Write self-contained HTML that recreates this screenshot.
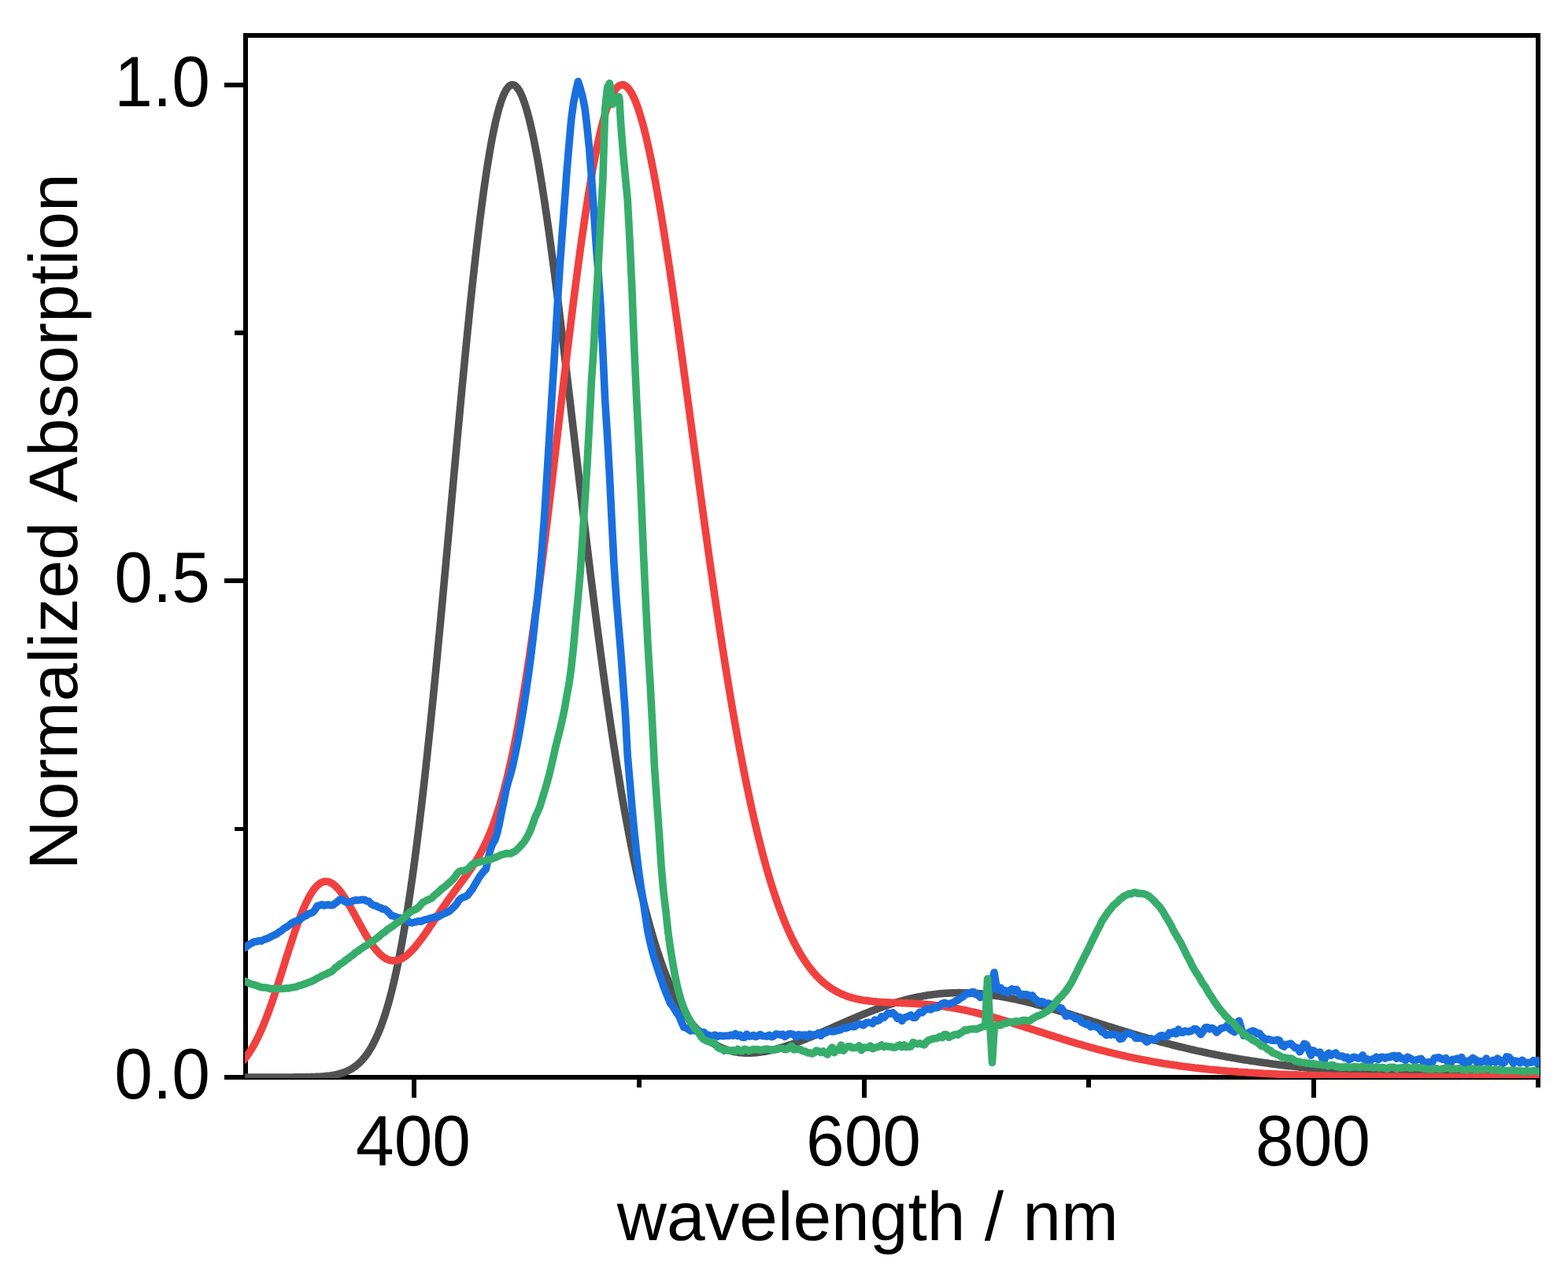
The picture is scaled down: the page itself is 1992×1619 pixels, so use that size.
<!DOCTYPE html>
<html lang="en"><head><meta charset="utf-8"><title>Normalized Absorption</title>
<style>
html,body{margin:0;padding:0;background:#fff;}
body{width:1992px;height:1619px;overflow:hidden;}
svg{display:block;}
</style></head><body>
<svg width="1992" height="1619" viewBox="0 0 1992 1619">
<rect width="1992" height="1619" fill="#ffffff"/>
<defs><clipPath id="plot"><rect x="311" y="45.0" width="1645" height="1325.0"/></clipPath></defs>
<g stroke="#000" stroke-width="6" fill="none" stroke-linecap="butt">
<rect x="312.0" y="45.0" width="1642.0" height="1324.0"/>
<line x1="526.0" y1="1369.0" x2="526.0" y2="1395.0"/>
<line x1="812.0" y1="1369.0" x2="812.0" y2="1382.0"/>
<line x1="1098.0" y1="1369.0" x2="1098.0" y2="1395.0"/>
<line x1="1383.0" y1="1369.0" x2="1383.0" y2="1382.0"/>
<line x1="1669.0" y1="1369.0" x2="1669.0" y2="1395.0"/>
<line x1="1954.0" y1="1369.0" x2="1954.0" y2="1382.0"/>
<line x1="312.0" y1="1369.0" x2="285.0" y2="1369.0"/>
<line x1="312.0" y1="1053.5" x2="298.0" y2="1053.5" stroke-width="5"/>
<line x1="312.0" y1="738.0" x2="285.0" y2="738.0"/>
<line x1="312.0" y1="423.0" x2="298.0" y2="423.0"/>
<line x1="312.0" y1="108.0" x2="285.0" y2="108.0"/>
</g>
<g fill="none" stroke-width="9.6" stroke-linejoin="round" stroke-linecap="butt" clip-path="url(#plot)">
<path stroke="#515151" d="M306.0,1369.0 L308.0,1369.0 L310.0,1369.0 L312.0,1369.0 L314.0,1369.0 L316.0,1369.0 L318.0,1369.0 L320.0,1369.0 L322.0,1369.0 L324.0,1369.0 L326.0,1369.0 L328.0,1369.0 L330.0,1369.0 L332.0,1369.0 L334.0,1369.0 L336.0,1369.0 L338.0,1369.0 L340.0,1369.0 L342.0,1369.0 L344.0,1369.0 L346.0,1369.0 L348.0,1369.0 L350.0,1369.0 L352.0,1369.0 L354.0,1369.0 L356.0,1369.0 L358.0,1369.0 L360.0,1369.0 L362.0,1369.0 L364.0,1369.0 L366.0,1369.0 L368.0,1369.0 L370.0,1369.0 L372.0,1369.0 L374.0,1368.9 L376.0,1368.9 L378.0,1368.9 L380.0,1368.9 L382.0,1368.9 L384.0,1368.9 L386.0,1368.8 L388.0,1368.8 L390.0,1368.8 L392.0,1368.7 L394.0,1368.7 L396.0,1368.6 L398.0,1368.6 L400.0,1368.5 L402.0,1368.4 L404.0,1368.3 L406.0,1368.2 L408.0,1368.1 L410.0,1368.0 L412.0,1367.8 L414.0,1367.6 L416.0,1367.4 L418.0,1367.2 L420.0,1366.9 L422.0,1366.6 L424.0,1366.3 L426.0,1365.9 L428.0,1365.5 L430.0,1365.0 L432.0,1364.4 L434.0,1363.8 L436.0,1363.2 L438.0,1362.4 L440.0,1361.6 L442.0,1360.7 L444.0,1359.7 L446.0,1358.6 L448.0,1357.4 L450.0,1356.1 L452.0,1354.6 L454.0,1353.0 L456.0,1351.2 L458.0,1349.3 L460.0,1347.2 L462.0,1344.9 L464.0,1342.5 L466.0,1339.8 L468.0,1336.9 L470.0,1333.7 L472.0,1330.4 L474.0,1326.7 L476.0,1322.8 L478.0,1318.6 L480.0,1314.1 L482.0,1309.3 L484.0,1304.2 L486.0,1298.7 L488.0,1292.9 L490.0,1286.7 L492.0,1280.1 L494.0,1273.1 L496.0,1265.7 L498.0,1257.9 L500.0,1249.6 L502.0,1240.9 L504.0,1231.8 L506.0,1222.2 L508.0,1212.1 L510.0,1201.6 L512.0,1190.5 L514.0,1179.0 L516.0,1167.0 L518.0,1154.5 L520.0,1141.4 L522.0,1127.9 L524.0,1113.9 L526.0,1099.4 L528.0,1084.3 L530.0,1068.8 L532.0,1052.8 L534.0,1036.4 L536.0,1019.4 L538.0,1002.1 L540.0,984.2 L542.0,966.0 L544.0,947.3 L546.0,928.2 L548.0,908.8 L550.0,889.0 L552.0,868.9 L554.0,848.5 L556.0,827.8 L558.0,806.8 L560.0,785.6 L562.0,764.2 L564.0,742.6 L566.0,720.9 L568.0,699.1 L570.0,677.2 L572.0,655.2 L574.0,633.3 L576.0,611.4 L578.0,589.5 L580.0,567.8 L582.0,546.1 L584.0,524.7 L586.0,503.4 L588.0,482.4 L590.0,461.6 L592.0,441.2 L594.0,421.1 L596.0,401.4 L598.0,382.1 L600.0,363.3 L602.0,344.9 L604.0,327.0 L606.0,309.7 L608.0,293.0 L610.0,276.8 L612.0,261.2 L614.0,246.4 L616.0,232.1 L618.0,218.6 L620.0,205.8 L622.0,193.7 L624.0,182.3 L626.0,171.8 L628.0,162.0 L630.0,152.9 L632.0,144.7 L634.0,137.3 L636.0,130.8 L638.0,125.0 L640.0,120.1 L642.0,116.0 L644.0,112.7 L646.0,110.2 L648.0,108.6 L650.0,107.8 L652.0,107.8 L654.0,108.6 L656.0,110.2 L658.0,112.6 L660.0,115.8 L662.0,119.7 L664.0,124.4 L666.0,129.8 L668.0,135.9 L670.0,142.7 L672.0,150.2 L674.0,158.4 L676.0,167.2 L678.0,176.6 L680.0,186.6 L682.0,197.1 L684.0,208.2 L686.0,219.9 L688.0,232.0 L690.0,244.7 L692.0,257.7 L694.0,271.2 L696.0,285.2 L698.0,299.4 L700.0,314.1 L702.0,329.0 L704.0,344.3 L706.0,359.9 L708.0,375.7 L710.0,391.7 L712.0,408.0 L714.0,424.4 L716.0,441.0 L718.0,457.7 L720.0,474.6 L722.0,491.5 L724.0,508.5 L726.0,525.6 L728.0,542.7 L730.0,559.8 L732.0,576.9 L734.0,594.0 L736.0,611.0 L738.0,628.0 L740.0,644.9 L742.0,661.7 L744.0,678.4 L746.0,695.0 L748.0,711.5 L750.0,727.8 L752.0,744.0 L754.0,760.0 L756.0,775.8 L758.0,791.4 L760.0,806.9 L762.0,822.1 L764.0,837.1 L766.0,851.9 L768.0,866.5 L770.0,880.8 L772.0,894.9 L774.0,908.8 L776.0,922.4 L778.0,935.8 L780.0,948.9 L782.0,961.7 L784.0,974.3 L786.0,986.6 L788.0,998.7 L790.0,1010.5 L792.0,1022.0 L794.0,1033.2 L796.0,1044.2 L798.0,1055.0 L800.0,1065.4 L802.0,1075.6 L804.0,1085.6 L806.0,1095.3 L808.0,1104.7 L810.0,1113.9 L812.0,1122.8 L814.0,1131.5 L816.0,1139.9 L818.0,1148.1 L820.0,1156.0 L822.0,1163.7 L824.0,1171.2 L826.0,1178.4 L828.0,1185.4 L830.0,1192.2 L832.0,1198.8 L834.0,1205.2 L836.0,1211.3 L838.0,1217.3 L840.0,1223.0 L842.0,1228.5 L844.0,1233.9 L846.0,1239.1 L848.0,1244.0 L850.0,1248.8 L852.0,1253.5 L854.0,1257.9 L856.0,1262.2 L858.0,1266.3 L860.0,1270.3 L862.0,1274.1 L864.0,1277.7 L866.0,1281.2 L868.0,1284.6 L870.0,1287.8 L872.0,1290.9 L874.0,1293.8 L876.0,1296.7 L878.0,1299.4 L880.0,1301.9 L882.0,1304.4 L884.0,1306.7 L886.0,1309.0 L888.0,1311.1 L890.0,1313.1 L892.0,1315.0 L894.0,1316.9 L896.0,1318.6 L898.0,1320.2 L900.0,1321.8 L902.0,1323.2 L904.0,1324.6 L906.0,1325.9 L908.0,1327.1 L910.0,1328.3 L912.0,1329.3 L914.0,1330.3 L916.0,1331.2 L918.0,1332.1 L920.0,1332.9 L922.0,1333.6 L924.0,1334.3 L926.0,1334.9 L928.0,1335.4 L930.0,1335.9 L932.0,1336.4 L934.0,1336.7 L936.0,1337.1 L938.0,1337.4 L940.0,1337.6 L942.0,1337.8 L944.0,1338.0 L946.0,1338.1 L948.0,1338.1 L950.0,1338.2 L952.0,1338.2 L954.0,1338.1 L956.0,1338.0 L958.0,1337.9 L960.0,1337.8 L962.0,1337.6 L964.0,1337.3 L966.0,1337.1 L968.0,1336.8 L970.0,1336.5 L972.0,1336.2 L974.0,1335.8 L976.0,1335.4 L978.0,1335.0 L980.0,1334.6 L982.0,1334.1 L984.0,1333.6 L986.0,1333.1 L988.0,1332.6 L990.0,1332.0 L992.0,1331.5 L994.0,1330.9 L996.0,1330.3 L998.0,1329.6 L1000.0,1329.0 L1002.0,1328.3 L1004.0,1327.7 L1006.0,1327.0 L1008.0,1326.3 L1010.0,1325.6 L1012.0,1324.8 L1014.0,1324.1 L1016.0,1323.3 L1018.0,1322.6 L1020.0,1321.8 L1022.0,1321.0 L1024.0,1320.2 L1026.0,1319.4 L1028.0,1318.6 L1030.0,1317.8 L1032.0,1316.9 L1034.0,1316.1 L1036.0,1315.2 L1038.0,1314.4 L1040.0,1313.5 L1042.0,1312.7 L1044.0,1311.8 L1046.0,1311.0 L1048.0,1310.1 L1050.0,1309.2 L1052.0,1308.3 L1054.0,1307.4 L1056.0,1306.6 L1058.0,1305.7 L1060.0,1304.8 L1062.0,1303.9 L1064.0,1303.0 L1066.0,1302.2 L1068.0,1301.3 L1070.0,1300.4 L1072.0,1299.5 L1074.0,1298.6 L1076.0,1297.8 L1078.0,1296.9 L1080.0,1296.0 L1082.0,1295.2 L1084.0,1294.3 L1086.0,1293.5 L1088.0,1292.6 L1090.0,1291.8 L1092.0,1290.9 L1094.0,1290.1 L1096.0,1289.3 L1098.0,1288.5 L1100.0,1287.7 L1102.0,1286.9 L1104.0,1286.1 L1106.0,1285.3 L1108.0,1284.5 L1110.0,1283.7 L1112.0,1283.0 L1114.0,1282.2 L1116.0,1281.5 L1118.0,1280.8 L1120.0,1280.0 L1122.0,1279.3 L1124.0,1278.6 L1126.0,1278.0 L1128.0,1277.3 L1130.0,1276.6 L1132.0,1276.0 L1134.0,1275.3 L1136.0,1274.7 L1138.0,1274.1 L1140.0,1273.5 L1142.0,1272.9 L1144.0,1272.4 L1146.0,1271.8 L1148.0,1271.3 L1150.0,1270.7 L1152.0,1270.2 L1154.0,1269.7 L1156.0,1269.2 L1158.0,1268.7 L1160.0,1268.3 L1162.0,1267.8 L1164.0,1267.4 L1166.0,1267.0 L1168.0,1266.6 L1170.0,1266.2 L1172.0,1265.9 L1174.0,1265.5 L1176.0,1265.2 L1178.0,1264.8 L1180.0,1264.5 L1182.0,1264.2 L1184.0,1264.0 L1186.0,1263.7 L1188.0,1263.5 L1190.0,1263.2 L1192.0,1263.0 L1194.0,1262.8 L1196.0,1262.6 L1198.0,1262.5 L1200.0,1262.3 L1202.0,1262.2 L1204.0,1262.1 L1206.0,1262.0 L1208.0,1261.9 L1210.0,1261.8 L1212.0,1261.7 L1214.0,1261.7 L1216.0,1261.7 L1218.0,1261.6 L1220.0,1261.6 L1222.0,1261.7 L1224.0,1261.7 L1226.0,1261.7 L1228.0,1261.8 L1230.0,1261.9 L1232.0,1261.9 L1234.0,1262.0 L1236.0,1262.2 L1238.0,1262.3 L1240.0,1262.4 L1242.0,1262.6 L1244.0,1262.8 L1246.0,1262.9 L1248.0,1263.1 L1250.0,1263.3 L1252.0,1263.6 L1254.0,1263.8 L1256.0,1264.0 L1258.0,1264.3 L1260.0,1264.6 L1262.0,1264.9 L1264.0,1265.1 L1266.0,1265.5 L1268.0,1265.8 L1270.0,1266.1 L1272.0,1266.4 L1274.0,1266.8 L1276.0,1267.1 L1278.0,1267.5 L1280.0,1267.9 L1282.0,1268.3 L1284.0,1268.7 L1286.0,1269.1 L1288.0,1269.5 L1290.0,1269.9 L1292.0,1270.4 L1294.0,1270.8 L1296.0,1271.3 L1298.0,1271.7 L1300.0,1272.2 L1302.0,1272.7 L1304.0,1273.2 L1306.0,1273.7 L1308.0,1274.2 L1310.0,1274.7 L1312.0,1275.2 L1314.0,1275.7 L1316.0,1276.3 L1318.0,1276.8 L1320.0,1277.3 L1322.0,1277.9 L1324.0,1278.4 L1326.0,1279.0 L1328.0,1279.6 L1330.0,1280.1 L1332.0,1280.7 L1334.0,1281.3 L1336.0,1281.9 L1338.0,1282.4 L1340.0,1283.0 L1342.0,1283.6 L1344.0,1284.2 L1346.0,1284.8 L1348.0,1285.4 L1350.0,1286.0 L1352.0,1286.7 L1354.0,1287.3 L1356.0,1287.9 L1358.0,1288.5 L1360.0,1289.1 L1362.0,1289.7 L1364.0,1290.4 L1366.0,1291.0 L1368.0,1291.6 L1370.0,1292.3 L1372.0,1292.9 L1374.0,1293.5 L1376.0,1294.2 L1378.0,1294.8 L1380.0,1295.4 L1382.0,1296.1 L1384.0,1296.7 L1386.0,1297.3 L1388.0,1298.0 L1390.0,1298.6 L1392.0,1299.2 L1394.0,1299.9 L1396.0,1300.5 L1398.0,1301.1 L1400.0,1301.8 L1402.0,1302.4 L1404.0,1303.0 L1406.0,1303.7 L1408.0,1304.3 L1410.0,1304.9 L1412.0,1305.6 L1414.0,1306.2 L1416.0,1306.8 L1418.0,1307.4 L1420.0,1308.0 L1422.0,1308.7 L1424.0,1309.3 L1426.0,1309.9 L1428.0,1310.5 L1430.0,1311.1 L1432.0,1311.7 L1434.0,1312.3 L1436.0,1312.9 L1438.0,1313.5 L1440.0,1314.1 L1442.0,1314.7 L1444.0,1315.3 L1446.0,1315.9 L1448.0,1316.5 L1450.0,1317.1 L1452.0,1317.6 L1454.0,1318.2 L1456.0,1318.8 L1458.0,1319.4 L1460.0,1319.9 L1462.0,1320.5 L1464.0,1321.0 L1466.0,1321.6 L1468.0,1322.2 L1470.0,1322.7 L1472.0,1323.2 L1474.0,1323.8 L1476.0,1324.3 L1478.0,1324.9 L1480.0,1325.4 L1482.0,1325.9 L1484.0,1326.4 L1486.0,1326.9 L1488.0,1327.5 L1490.0,1328.0 L1492.0,1328.5 L1494.0,1329.0 L1496.0,1329.5 L1498.0,1330.0 L1500.0,1330.5 L1502.0,1330.9 L1504.0,1331.4 L1506.0,1331.9 L1508.0,1332.4 L1510.0,1332.8 L1512.0,1333.3 L1514.0,1333.8 L1516.0,1334.2 L1518.0,1334.7 L1520.0,1335.1 L1522.0,1335.6 L1524.0,1336.0 L1526.0,1336.4 L1528.0,1336.9 L1530.0,1337.3 L1532.0,1337.7 L1534.0,1338.2 L1536.0,1338.6 L1538.0,1339.0 L1540.0,1339.4 L1542.0,1339.8 L1544.0,1340.2 L1546.0,1340.6 L1548.0,1341.0 L1550.0,1341.4 L1552.0,1341.7 L1554.0,1342.1 L1556.0,1342.5 L1558.0,1342.9 L1560.0,1343.2 L1562.0,1343.6 L1564.0,1343.9 L1566.0,1344.3 L1568.0,1344.6 L1570.0,1345.0 L1572.0,1345.3 L1574.0,1345.7 L1576.0,1346.0 L1578.0,1346.3 L1580.0,1346.7 L1582.0,1347.0 L1584.0,1347.3 L1586.0,1347.6 L1588.0,1347.9 L1590.0,1348.2 L1592.0,1348.5 L1594.0,1348.8 L1596.0,1349.1 L1598.0,1349.4 L1600.0,1349.7 L1602.0,1350.0 L1604.0,1350.3 L1606.0,1350.6 L1608.0,1350.8 L1610.0,1351.1 L1612.0,1351.4 L1614.0,1351.7 L1616.0,1351.9 L1618.0,1352.2 L1620.0,1352.4 L1622.0,1352.7 L1624.0,1352.9 L1626.0,1353.2 L1628.0,1353.4 L1630.0,1353.7 L1632.0,1353.9 L1634.0,1354.1 L1636.0,1354.4 L1638.0,1354.6 L1640.0,1354.8 L1642.0,1355.0 L1644.0,1355.2 L1646.0,1355.5 L1648.0,1355.7 L1650.0,1355.9 L1652.0,1356.1 L1654.0,1356.3 L1656.0,1356.5 L1658.0,1356.7 L1660.0,1356.9 L1662.0,1357.1 L1664.0,1357.3 L1666.0,1357.4 L1668.0,1357.6 L1670.0,1357.8 L1672.0,1358.0 L1674.0,1358.2 L1676.0,1358.3 L1678.0,1358.5 L1680.0,1358.7 L1682.0,1358.8 L1684.0,1359.0 L1686.0,1359.2 L1688.0,1359.3 L1690.0,1359.5 L1692.0,1359.6 L1694.0,1359.8 L1696.0,1359.9 L1698.0,1360.1 L1700.0,1360.2 L1702.0,1360.4 L1704.0,1360.5 L1706.0,1360.7 L1708.0,1360.8 L1710.0,1360.9 L1712.0,1361.1 L1714.0,1361.2 L1716.0,1361.3 L1718.0,1361.5 L1720.0,1361.6 L1722.0,1361.7 L1724.0,1361.8 L1726.0,1361.9 L1728.0,1362.1 L1730.0,1362.2 L1732.0,1362.3 L1734.0,1362.4 L1736.0,1362.5 L1738.0,1362.6 L1740.0,1362.7 L1742.0,1362.8 L1744.0,1362.9 L1746.0,1363.0 L1748.0,1363.1 L1750.0,1363.2 L1752.0,1363.3 L1754.0,1363.4 L1756.0,1363.5 L1758.0,1363.6 L1760.0,1363.7 L1762.0,1363.8 L1764.0,1363.9 L1766.0,1364.0 L1768.0,1364.1 L1770.0,1364.2 L1772.0,1364.2 L1774.0,1364.3 L1776.0,1364.4 L1778.0,1364.5 L1780.0,1364.6 L1782.0,1364.6 L1784.0,1364.7 L1786.0,1364.8 L1788.0,1364.9 L1790.0,1364.9 L1792.0,1365.0 L1794.0,1365.1 L1796.0,1365.1 L1798.0,1365.2 L1800.0,1365.3 L1802.0,1365.3 L1804.0,1365.4 L1806.0,1365.5 L1808.0,1365.5 L1810.0,1365.6 L1812.0,1365.6 L1814.0,1365.7 L1816.0,1365.8 L1818.0,1365.8 L1820.0,1365.9 L1822.0,1365.9 L1824.0,1366.0 L1826.0,1366.0 L1828.0,1366.1 L1830.0,1366.1 L1832.0,1366.2 L1834.0,1366.2 L1836.0,1366.3 L1838.0,1366.3 L1840.0,1366.4 L1842.0,1366.4 L1844.0,1366.5 L1846.0,1366.5 L1848.0,1366.6 L1850.0,1366.6 L1852.0,1366.7 L1854.0,1366.7 L1856.0,1366.7 L1858.0,1366.8 L1860.0,1366.8 L1862.0,1366.9 L1864.0,1366.9 L1866.0,1366.9 L1868.0,1367.0 L1870.0,1367.0 L1872.0,1367.0 L1874.0,1367.1 L1876.0,1367.1 L1878.0,1367.1 L1880.0,1367.2 L1882.0,1367.2 L1884.0,1367.2 L1886.0,1367.3 L1888.0,1367.3 L1890.0,1367.3 L1892.0,1367.4 L1894.0,1367.4 L1896.0,1367.4 L1898.0,1367.5 L1900.0,1367.5 L1902.0,1367.5 L1904.0,1367.5 L1906.0,1367.6 L1908.0,1367.6 L1910.0,1367.6 L1912.0,1367.6 L1914.0,1367.7 L1916.0,1367.7 L1918.0,1367.7 L1920.0,1367.7 L1922.0,1367.8 L1924.0,1367.8 L1926.0,1367.8 L1928.0,1367.8 L1930.0,1367.8 L1932.0,1367.9 L1934.0,1367.9 L1936.0,1367.9 L1938.0,1367.9 L1940.0,1367.9 L1942.0,1368.0 L1944.0,1368.0 L1946.0,1368.0 L1948.0,1368.0 L1950.0,1368.0 L1952.0,1368.1 L1954.0,1368.1 L1956.0,1368.1 L1958.0,1368.1 L1960.0,1368.1"/>
<path stroke="#F14040" d="M306.0,1350.8 L308.0,1348.8 L310.0,1346.5 L312.0,1344.1 L314.0,1341.5 L316.0,1338.7 L318.0,1335.7 L320.0,1332.5 L322.0,1329.1 L324.0,1325.4 L326.0,1321.6 L328.0,1317.6 L330.0,1313.3 L332.0,1308.8 L334.0,1304.2 L336.0,1299.3 L338.0,1294.3 L340.0,1289.0 L342.0,1283.6 L344.0,1278.0 L346.0,1272.3 L348.0,1266.4 L350.0,1260.4 L352.0,1254.3 L354.0,1248.1 L356.0,1241.8 L358.0,1235.5 L360.0,1229.1 L362.0,1222.8 L364.0,1216.4 L366.0,1210.1 L368.0,1203.8 L370.0,1197.7 L372.0,1191.6 L374.0,1185.6 L376.0,1179.8 L378.0,1174.2 L380.0,1168.8 L382.0,1163.5 L384.0,1158.5 L386.0,1153.8 L388.0,1149.3 L390.0,1145.1 L392.0,1141.2 L394.0,1137.5 L396.0,1134.3 L398.0,1131.3 L400.0,1128.7 L402.0,1126.4 L404.0,1124.5 L406.0,1122.9 L408.0,1121.7 L410.0,1120.9 L412.0,1120.3 L414.0,1120.2 L416.0,1120.3 L418.0,1120.8 L420.0,1121.6 L422.0,1122.7 L424.0,1124.1 L426.0,1125.8 L428.0,1127.8 L430.0,1130.0 L432.0,1132.4 L434.0,1135.0 L436.0,1137.9 L438.0,1140.9 L440.0,1144.1 L442.0,1147.4 L444.0,1150.8 L446.0,1154.3 L448.0,1157.9 L450.0,1161.5 L452.0,1165.2 L454.0,1168.9 L456.0,1172.6 L458.0,1176.2 L460.0,1179.8 L462.0,1183.4 L464.0,1186.8 L466.0,1190.2 L468.0,1193.4 L470.0,1196.5 L472.0,1199.5 L474.0,1202.3 L476.0,1205.0 L478.0,1207.4 L480.0,1209.7 L482.0,1211.8 L484.0,1213.7 L486.0,1215.4 L488.0,1216.8 L490.0,1218.1 L492.0,1219.1 L494.0,1219.9 L496.0,1220.5 L498.0,1220.8 L500.0,1220.9 L502.0,1220.9 L504.0,1220.6 L506.0,1220.0 L508.0,1219.3 L510.0,1218.4 L512.0,1217.3 L514.0,1216.0 L516.0,1214.6 L518.0,1212.9 L520.0,1211.1 L522.0,1209.2 L524.0,1207.1 L526.0,1204.9 L528.0,1202.6 L530.0,1200.1 L532.0,1197.6 L534.0,1195.0 L536.0,1192.3 L538.0,1189.5 L540.0,1186.7 L542.0,1183.8 L544.0,1180.9 L546.0,1177.9 L548.0,1175.0 L550.0,1172.0 L552.0,1169.1 L554.0,1166.1 L556.0,1163.1 L558.0,1160.2 L560.0,1157.2 L562.0,1154.3 L564.0,1151.4 L566.0,1148.6 L568.0,1145.7 L570.0,1142.9 L572.0,1140.2 L574.0,1137.4 L576.0,1134.7 L578.0,1131.9 L580.0,1129.2 L582.0,1126.5 L584.0,1123.9 L586.0,1121.2 L588.0,1118.5 L590.0,1115.7 L592.0,1113.0 L594.0,1110.2 L596.0,1107.3 L598.0,1104.4 L600.0,1101.4 L602.0,1098.3 L604.0,1095.2 L606.0,1091.9 L608.0,1088.5 L610.0,1084.9 L612.0,1081.2 L614.0,1077.3 L616.0,1073.2 L618.0,1069.0 L620.0,1064.5 L622.0,1059.8 L624.0,1054.8 L626.0,1049.6 L628.0,1044.1 L630.0,1038.4 L632.0,1032.3 L634.0,1026.0 L636.0,1019.3 L638.0,1012.3 L640.0,1005.0 L642.0,997.3 L644.0,989.3 L646.0,980.9 L648.0,972.1 L650.0,963.0 L652.0,953.4 L654.0,943.5 L656.0,933.3 L658.0,922.6 L660.0,911.6 L662.0,900.2 L664.0,888.4 L666.0,876.2 L668.0,863.7 L670.0,850.8 L672.0,837.5 L674.0,823.9 L676.0,810.0 L678.0,795.8 L680.0,781.2 L682.0,766.4 L684.0,751.2 L686.0,735.8 L688.0,720.2 L690.0,704.3 L692.0,688.2 L694.0,671.9 L696.0,655.4 L698.0,638.8 L700.0,622.1 L702.0,605.2 L704.0,588.3 L706.0,571.3 L708.0,554.3 L710.0,537.3 L712.0,520.2 L714.0,503.2 L716.0,486.3 L718.0,469.5 L720.0,452.8 L722.0,436.2 L724.0,419.8 L726.0,403.6 L728.0,387.6 L730.0,371.8 L732.0,356.3 L734.0,341.1 L736.0,326.2 L738.0,311.7 L740.0,297.5 L742.0,283.7 L744.0,270.3 L746.0,257.3 L748.0,244.7 L750.0,232.7 L752.0,221.0 L754.0,209.9 L756.0,199.3 L758.0,189.3 L760.0,179.7 L762.0,170.7 L764.0,162.3 L766.0,154.5 L768.0,147.2 L770.0,140.6 L772.0,134.5 L774.0,129.1 L776.0,124.2 L778.0,120.0 L780.0,116.4 L782.0,113.4 L784.0,111.1 L786.0,109.4 L788.0,108.3 L790.0,107.8 L792.0,107.9 L794.0,108.6 L796.0,110.0 L798.0,112.0 L800.0,114.5 L802.0,117.6 L804.0,121.4 L806.0,125.6 L808.0,130.5 L810.0,135.9 L812.0,141.8 L814.0,148.3 L816.0,155.2 L818.0,162.7 L820.0,170.6 L822.0,179.0 L824.0,187.9 L826.0,197.2 L828.0,207.0 L830.0,217.1 L832.0,227.6 L834.0,238.6 L836.0,249.8 L838.0,261.4 L840.0,273.4 L842.0,285.6 L844.0,298.2 L846.0,311.0 L848.0,324.0 L850.0,337.3 L852.0,350.9 L854.0,364.6 L856.0,378.5 L858.0,392.6 L860.0,406.9 L862.0,421.2 L864.0,435.7 L866.0,450.4 L868.0,465.1 L870.0,479.8 L872.0,494.7 L874.0,509.6 L876.0,524.5 L878.0,539.4 L880.0,554.3 L882.0,569.3 L884.0,584.2 L886.0,599.0 L888.0,613.9 L890.0,628.6 L892.0,643.3 L894.0,658.0 L896.0,672.5 L898.0,686.9 L900.0,701.2 L902.0,715.4 L904.0,729.5 L906.0,743.4 L908.0,757.2 L910.0,770.9 L912.0,784.4 L914.0,797.7 L916.0,810.8 L918.0,823.8 L920.0,836.6 L922.0,849.2 L924.0,861.6 L926.0,873.8 L928.0,885.8 L930.0,897.7 L932.0,909.3 L934.0,920.7 L936.0,931.9 L938.0,942.9 L940.0,953.6 L942.0,964.2 L944.0,974.5 L946.0,984.7 L948.0,994.6 L950.0,1004.2 L952.0,1013.7 L954.0,1023.0 L956.0,1032.0 L958.0,1040.8 L960.0,1049.4 L962.0,1057.8 L964.0,1066.0 L966.0,1073.9 L968.0,1081.7 L970.0,1089.2 L972.0,1096.5 L974.0,1103.7 L976.0,1110.6 L978.0,1117.3 L980.0,1123.8 L982.0,1130.2 L984.0,1136.3 L986.0,1142.3 L988.0,1148.0 L990.0,1153.6 L992.0,1159.0 L994.0,1164.2 L996.0,1169.3 L998.0,1174.1 L1000.0,1178.8 L1002.0,1183.4 L1004.0,1187.8 L1006.0,1192.0 L1008.0,1196.0 L1010.0,1199.9 L1012.0,1203.7 L1014.0,1207.3 L1016.0,1210.8 L1018.0,1214.2 L1020.0,1217.4 L1022.0,1220.4 L1024.0,1223.4 L1026.0,1226.2 L1028.0,1228.9 L1030.0,1231.5 L1032.0,1234.0 L1034.0,1236.3 L1036.0,1238.6 L1038.0,1240.7 L1040.0,1242.8 L1042.0,1244.7 L1044.0,1246.6 L1046.0,1248.4 L1048.0,1250.0 L1050.0,1251.6 L1052.0,1253.1 L1054.0,1254.6 L1056.0,1255.9 L1058.0,1257.2 L1060.0,1258.4 L1062.0,1259.6 L1064.0,1260.6 L1066.0,1261.7 L1068.0,1262.6 L1070.0,1263.5 L1072.0,1264.3 L1074.0,1265.1 L1076.0,1265.9 L1078.0,1266.6 L1080.0,1267.2 L1082.0,1267.8 L1084.0,1268.4 L1086.0,1268.9 L1088.0,1269.4 L1090.0,1269.8 L1092.0,1270.2 L1094.0,1270.6 L1096.0,1271.0 L1098.0,1271.3 L1100.0,1271.6 L1102.0,1271.8 L1104.0,1272.1 L1106.0,1272.3 L1108.0,1272.5 L1110.0,1272.7 L1112.0,1272.9 L1114.0,1273.1 L1116.0,1273.2 L1118.0,1273.4 L1120.0,1273.5 L1122.0,1273.6 L1124.0,1273.7 L1126.0,1273.8 L1128.0,1273.9 L1130.0,1274.0 L1132.0,1274.1 L1134.0,1274.2 L1136.0,1274.2 L1138.0,1274.3 L1140.0,1274.4 L1142.0,1274.5 L1144.0,1274.5 L1146.0,1274.6 L1148.0,1274.7 L1150.0,1274.8 L1152.0,1274.9 L1154.0,1274.9 L1156.0,1275.0 L1158.0,1275.1 L1160.0,1275.2 L1162.0,1275.4 L1164.0,1275.5 L1166.0,1275.6 L1168.0,1275.7 L1170.0,1275.9 L1172.0,1276.0 L1174.0,1276.2 L1176.0,1276.4 L1178.0,1276.5 L1180.0,1276.7 L1182.0,1276.9 L1184.0,1277.1 L1186.0,1277.3 L1188.0,1277.6 L1190.0,1277.8 L1192.0,1278.0 L1194.0,1278.3 L1196.0,1278.6 L1198.0,1278.8 L1200.0,1279.1 L1202.0,1279.4 L1204.0,1279.7 L1206.0,1280.1 L1208.0,1280.4 L1210.0,1280.7 L1212.0,1281.1 L1214.0,1281.4 L1216.0,1281.8 L1218.0,1282.2 L1220.0,1282.6 L1222.0,1283.0 L1224.0,1283.4 L1226.0,1283.8 L1228.0,1284.2 L1230.0,1284.7 L1232.0,1285.1 L1234.0,1285.6 L1236.0,1286.0 L1238.0,1286.5 L1240.0,1287.0 L1242.0,1287.5 L1244.0,1288.0 L1246.0,1288.5 L1248.0,1289.0 L1250.0,1289.6 L1252.0,1290.1 L1254.0,1290.6 L1256.0,1291.2 L1258.0,1291.7 L1260.0,1292.3 L1262.0,1292.8 L1264.0,1293.4 L1266.0,1294.0 L1268.0,1294.6 L1270.0,1295.2 L1272.0,1295.8 L1274.0,1296.4 L1276.0,1297.0 L1278.0,1297.6 L1280.0,1298.2 L1282.0,1298.8 L1284.0,1299.4 L1286.0,1300.0 L1288.0,1300.7 L1290.0,1301.3 L1292.0,1301.9 L1294.0,1302.6 L1296.0,1303.2 L1298.0,1303.8 L1300.0,1304.5 L1302.0,1305.1 L1304.0,1305.8 L1306.0,1306.4 L1308.0,1307.0 L1310.0,1307.7 L1312.0,1308.3 L1314.0,1309.0 L1316.0,1309.6 L1318.0,1310.3 L1320.0,1310.9 L1322.0,1311.6 L1324.0,1312.2 L1326.0,1312.9 L1328.0,1313.5 L1330.0,1314.2 L1332.0,1314.8 L1334.0,1315.4 L1336.0,1316.1 L1338.0,1316.7 L1340.0,1317.3 L1342.0,1318.0 L1344.0,1318.6 L1346.0,1319.2 L1348.0,1319.9 L1350.0,1320.5 L1352.0,1321.1 L1354.0,1321.7 L1356.0,1322.3 L1358.0,1323.0 L1360.0,1323.6 L1362.0,1324.2 L1364.0,1324.8 L1366.0,1325.4 L1368.0,1326.0 L1370.0,1326.6 L1372.0,1327.1 L1374.0,1327.7 L1376.0,1328.3 L1378.0,1328.9 L1380.0,1329.4 L1382.0,1330.0 L1384.0,1330.6 L1386.0,1331.1 L1388.0,1331.7 L1390.0,1332.2 L1392.0,1332.8 L1394.0,1333.3 L1396.0,1333.9 L1398.0,1334.4 L1400.0,1334.9 L1402.0,1335.4 L1404.0,1335.9 L1406.0,1336.4 L1408.0,1337.0 L1410.0,1337.5 L1412.0,1337.9 L1414.0,1338.4 L1416.0,1338.9 L1418.0,1339.4 L1420.0,1339.9 L1422.0,1340.3 L1424.0,1340.8 L1426.0,1341.3 L1428.0,1341.7 L1430.0,1342.2 L1432.0,1342.6 L1434.0,1343.1 L1436.0,1343.5 L1438.0,1343.9 L1440.0,1344.3 L1442.0,1344.8 L1444.0,1345.2 L1446.0,1345.6 L1448.0,1346.0 L1450.0,1346.4 L1452.0,1346.8 L1454.0,1347.1 L1456.0,1347.5 L1458.0,1347.9 L1460.0,1348.3 L1462.0,1348.6 L1464.0,1349.0 L1466.0,1349.4 L1468.0,1349.7 L1470.0,1350.1 L1472.0,1350.4 L1474.0,1350.7 L1476.0,1351.1 L1478.0,1351.4 L1480.0,1351.7 L1482.0,1352.0 L1484.0,1352.3 L1486.0,1352.7 L1488.0,1353.0 L1490.0,1353.3 L1492.0,1353.6 L1494.0,1353.8 L1496.0,1354.1 L1498.0,1354.4 L1500.0,1354.7 L1502.0,1355.0 L1504.0,1355.2 L1506.0,1355.5 L1508.0,1355.7 L1510.0,1356.0 L1512.0,1356.3 L1514.0,1356.5 L1516.0,1356.7 L1518.0,1357.0 L1520.0,1357.2 L1522.0,1357.4 L1524.0,1357.7 L1526.0,1357.9 L1528.0,1358.1 L1530.0,1358.3 L1532.0,1358.5 L1534.0,1358.8 L1536.0,1359.0 L1538.0,1359.2 L1540.0,1359.4 L1542.0,1359.6 L1544.0,1359.7 L1546.0,1359.9 L1548.0,1360.1 L1550.0,1360.3 L1552.0,1360.5 L1554.0,1360.7 L1556.0,1360.8 L1558.0,1361.0 L1560.0,1361.2 L1562.0,1361.3 L1564.0,1361.5 L1566.0,1361.6 L1568.0,1361.8 L1570.0,1361.9 L1572.0,1362.1 L1574.0,1362.2 L1576.0,1362.4 L1578.0,1362.5 L1580.0,1362.7 L1582.0,1362.8 L1584.0,1362.9 L1586.0,1363.1 L1588.0,1363.2 L1590.0,1363.3 L1592.0,1363.4 L1594.0,1363.5 L1596.0,1363.7 L1598.0,1363.8 L1600.0,1363.9 L1602.0,1364.0 L1604.0,1364.1 L1606.0,1364.2 L1608.0,1364.3 L1610.0,1364.4 L1612.0,1364.5 L1614.0,1364.6 L1616.0,1364.7 L1618.0,1364.8 L1620.0,1364.9 L1622.0,1365.0 L1624.0,1365.1 L1626.0,1365.2 L1628.0,1365.3 L1630.0,1365.3 L1632.0,1365.4 L1634.0,1365.5 L1636.0,1365.6 L1638.0,1365.7 L1640.0,1365.7 L1642.0,1365.8 L1644.0,1365.9 L1646.0,1365.9 L1648.0,1366.0 L1650.0,1366.1 L1652.0,1366.1 L1654.0,1366.2 L1656.0,1366.3 L1658.0,1366.3 L1660.0,1366.4 L1662.0,1366.5 L1664.0,1366.5 L1666.0,1366.6 L1668.0,1366.6 L1670.0,1366.7 L1672.0,1366.7 L1674.0,1366.8 L1676.0,1366.8 L1678.0,1366.9 L1680.0,1366.9 L1682.0,1367.0 L1684.0,1367.0 L1686.0,1367.1 L1688.0,1367.1 L1690.0,1367.2 L1692.0,1367.2 L1694.0,1367.2 L1696.0,1367.3 L1698.0,1367.3 L1700.0,1367.4 L1702.0,1367.4 L1704.0,1367.4 L1706.0,1367.5 L1708.0,1367.5 L1710.0,1367.6 L1712.0,1367.6 L1714.0,1367.6 L1716.0,1367.7 L1718.0,1367.7 L1720.0,1367.7 L1722.0,1367.7 L1724.0,1367.8 L1726.0,1367.8 L1728.0,1367.8 L1730.0,1367.9 L1732.0,1367.9 L1734.0,1367.9 L1736.0,1367.9 L1738.0,1368.0 L1740.0,1368.0 L1742.0,1368.0 L1744.0,1368.0 L1746.0,1368.1 L1748.0,1368.1 L1750.0,1368.1 L1752.0,1368.1 L1754.0,1368.1 L1756.0,1368.2 L1758.0,1368.2 L1760.0,1368.2 L1762.0,1368.2 L1764.0,1368.2 L1766.0,1368.3 L1768.0,1368.3 L1770.0,1368.3 L1772.0,1368.3 L1774.0,1368.3 L1776.0,1368.3 L1778.0,1368.4 L1780.0,1368.4 L1782.0,1368.4 L1784.0,1368.4 L1786.0,1368.4 L1788.0,1368.4 L1790.0,1368.5 L1792.0,1368.5 L1794.0,1368.5 L1796.0,1368.5 L1798.0,1368.5 L1800.0,1368.5 L1802.0,1368.5 L1804.0,1368.5 L1806.0,1368.6 L1808.0,1368.6 L1810.0,1368.6 L1812.0,1368.6 L1814.0,1368.6 L1816.0,1368.6 L1818.0,1368.6 L1820.0,1368.6 L1822.0,1368.6 L1824.0,1368.6 L1826.0,1368.7 L1828.0,1368.7 L1830.0,1368.7 L1832.0,1368.7 L1834.0,1368.7 L1836.0,1368.7 L1838.0,1368.7 L1840.0,1368.7 L1842.0,1368.7 L1844.0,1368.7 L1846.0,1368.7 L1848.0,1368.7 L1850.0,1368.7 L1852.0,1368.7 L1854.0,1368.8 L1856.0,1368.8 L1858.0,1368.8 L1860.0,1368.8 L1862.0,1368.8 L1864.0,1368.8 L1866.0,1368.8 L1868.0,1368.8 L1870.0,1368.8 L1872.0,1368.8 L1874.0,1368.8 L1876.0,1368.8 L1878.0,1368.8 L1880.0,1368.8 L1882.0,1368.8 L1884.0,1368.8 L1886.0,1368.8 L1888.0,1368.8 L1890.0,1368.8 L1892.0,1368.8 L1894.0,1368.9 L1896.0,1368.9 L1898.0,1368.9 L1900.0,1368.9 L1902.0,1368.9 L1904.0,1368.9 L1906.0,1368.9 L1908.0,1368.9 L1910.0,1368.9 L1912.0,1368.9 L1914.0,1368.9 L1916.0,1368.9 L1918.0,1368.9 L1920.0,1368.9 L1922.0,1368.9 L1924.0,1368.9 L1926.0,1368.9 L1928.0,1368.9 L1930.0,1368.9 L1932.0,1368.9 L1934.0,1368.9 L1936.0,1368.9 L1938.0,1368.9 L1940.0,1368.9 L1942.0,1368.9 L1944.0,1368.9 L1946.0,1368.9 L1948.0,1368.9 L1950.0,1368.9 L1952.0,1368.9 L1954.0,1368.9 L1956.0,1368.9 L1958.0,1368.9 L1960.0,1368.9"/>
<path stroke="#1A6FDF" d="M306.0,1205.4 L308.9,1203.7 L311.7,1204.2 L314.6,1201.6 L317.4,1199.7 L320.3,1198.4 L323.1,1196.7 L326.0,1196.6 L328.8,1195.6 L331.7,1196.0 L334.6,1194.4 L337.4,1193.3 L340.3,1192.4 L343.1,1191.0 L346.0,1189.4 L348.8,1188.1 L351.7,1186.8 L354.6,1184.5 L357.4,1182.9 L360.3,1180.4 L363.1,1178.4 L366.0,1176.9 L368.8,1174.6 L371.7,1172.5 L374.5,1171.2 L377.4,1170.1 L380.3,1169.2 L383.1,1166.7 L386.0,1164.9 L388.8,1163.7 L391.7,1161.4 L394.5,1160.4 L397.4,1159.4 L400.2,1156.2 L403.1,1151.2 L406.0,1150.6 L408.8,1149.5 L411.7,1150.8 L414.5,1150.0 L417.4,1149.7 L420.2,1150.5 L423.1,1150.0 L426.0,1147.9 L428.8,1145.7 L431.7,1143.3 L434.5,1142.5 L437.4,1145.2 L440.2,1146.6 L443.1,1146.2 L445.9,1145.9 L448.8,1144.6 L451.7,1143.8 L454.5,1144.0 L457.4,1143.7 L460.2,1143.3 L463.1,1143.5 L465.9,1145.1 L468.8,1145.6 L471.6,1148.7 L474.5,1150.5 L477.4,1150.9 L480.2,1152.6 L483.1,1153.3 L485.9,1155.2 L488.8,1155.4 L491.6,1157.3 L494.5,1160.3 L497.4,1163.8 L500.2,1164.1 L503.1,1165.4 L505.9,1166.3 L508.8,1166.7 L511.6,1168.2 L514.5,1168.0 L517.3,1169.9 L520.2,1172.0 L523.1,1172.8 L525.9,1172.0 L528.8,1171.5 L531.6,1170.5 L534.5,1171.1 L537.3,1169.8 L540.2,1168.8 L543.0,1168.2 L545.9,1167.3 L548.8,1166.4 L551.6,1165.8 L554.5,1165.0 L557.3,1164.9 L560.2,1162.7 L563.0,1161.7 L565.9,1160.4 L568.8,1159.0 L571.6,1157.4 L574.5,1154.6 L577.3,1151.9 L580.2,1148.6 L583.0,1144.2 L585.9,1141.4 L588.7,1140.3 L591.6,1139.2 L594.5,1137.2 L597.3,1133.4 L600.2,1129.8 L603.0,1124.5 L605.9,1119.9 L608.7,1115.1 L611.6,1110.9 L614.4,1107.6 L617.3,1104.7 L620.2,1091.2 L623.0,1079.5 L625.9,1072.3 L628.7,1067.8 L631.6,1058.6 L634.4,1046.6 L637.3,1031.7 L640.2,1017.9 L643.0,1003.3 L645.9,992.6 L648.7,983.6 L651.6,972.2 L654.4,959.1 L657.3,944.9 L660.1,929.4 L663.0,912.4 L665.9,894.6 L668.7,875.9 L671.6,855.8 L674.4,834.3 L677.3,810.5 L680.1,784.1 L683.0,758.9 L685.8,730.6 L688.7,695.8 L691.6,656.6 L694.4,612.0 L697.3,565.3 L700.1,519.6 L703.0,474.2 L705.8,428.9 L708.7,377.7 L711.6,332.9 L714.4,294.7 L717.3,256.6 L720.1,217.7 L723.0,183.0 L725.8,151.4 L728.7,130.2 L731.5,116.1 L734.4,103.5 L737.3,112.7 L740.1,122.9 L743.0,137.2 L745.8,160.8 L748.7,189.5 L751.5,225.5 L754.4,268.3 L757.2,309.7 L760.1,346.9 L763.0,387.8 L765.8,445.3 L768.7,509.1 L771.5,552.8 L774.4,603.6 L777.2,661.7 L780.1,718.6 L783.0,761.0 L785.8,794.6 L788.7,829.0 L791.5,867.2 L794.4,906.6 L797.2,959.9 L800.1,992.9 L802.9,1025.8 L805.8,1056.9 L808.7,1084.3 L811.5,1107.5 L814.4,1128.3 L817.2,1144.5 L820.1,1165.1 L822.9,1183.3 L825.8,1196.9 L828.6,1208.7 L831.5,1219.0 L834.4,1228.0 L837.2,1236.4 L840.1,1244.9 L842.9,1253.3 L845.8,1260.9 L848.6,1267.4 L851.5,1274.8 L854.4,1278.4 L857.2,1283.1 L860.1,1287.8 L862.9,1291.4 L865.8,1298.9 L868.6,1305.3 L871.5,1306.1 L874.3,1307.8 L877.2,1309.9 L880.1,1309.0 L882.9,1309.9 L885.8,1310.5 L888.6,1310.1 L891.5,1314.2 L894.3,1311.7 L897.2,1315.5 L900.0,1315.2 L902.9,1317.1 L905.8,1315.9 L908.6,1315.3 L911.5,1317.2 L914.3,1316.1 L917.2,1316.5 L920.0,1316.6 L922.9,1316.2 L925.8,1316.1 L928.6,1315.2 L931.5,1316.1 L934.3,1313.7 L937.2,1316.4 L940.0,1315.1 L942.9,1318.2 L945.7,1318.5 L948.6,1314.3 L951.5,1317.0 L954.3,1316.7 L957.2,1315.5 L960.0,1317.5 L962.9,1316.3 L965.7,1314.6 L968.6,1316.5 L971.4,1316.7 L974.3,1317.0 L977.2,1315.3 L980.0,1317.6 L982.9,1316.8 L985.7,1314.1 L988.6,1314.5 L991.4,1315.1 L994.3,1314.4 L997.2,1317.3 L1000.0,1315.3 L1002.9,1313.7 L1005.7,1314.0 L1008.6,1314.9 L1011.4,1317.9 L1014.3,1314.8 L1017.1,1315.2 L1020.0,1315.7 L1022.9,1315.0 L1025.7,1317.8 L1028.6,1314.2 L1031.4,1315.7 L1034.3,1314.8 L1037.1,1315.2 L1040.0,1312.6 L1042.8,1316.2 L1045.7,1313.2 L1048.6,1312.8 L1051.4,1310.7 L1054.3,1310.1 L1057.1,1310.9 L1060.0,1310.7 L1062.8,1309.6 L1065.7,1309.5 L1068.6,1308.1 L1071.4,1306.5 L1074.3,1306.8 L1077.1,1305.8 L1080.0,1304.2 L1082.8,1304.6 L1085.7,1304.6 L1088.5,1302.6 L1091.4,1301.1 L1094.3,1301.9 L1097.1,1302.9 L1100.0,1299.7 L1102.8,1299.6 L1105.7,1299.3 L1108.5,1300.8 L1111.4,1296.2 L1114.2,1297.5 L1117.1,1296.5 L1120.0,1291.9 L1122.8,1293.2 L1125.7,1290.1 L1128.5,1287.4 L1131.4,1288.3 L1134.2,1286.9 L1137.1,1289.6 L1140.0,1294.2 L1142.8,1292.4 L1145.7,1297.3 L1148.5,1293.5 L1151.4,1292.4 L1154.2,1291.5 L1157.1,1290.0 L1159.9,1293.2 L1162.8,1293.3 L1165.7,1289.2 L1168.5,1286.3 L1171.4,1286.9 L1174.2,1284.3 L1177.1,1281.9 L1179.9,1282.2 L1182.8,1283.0 L1185.6,1280.1 L1188.5,1280.8 L1191.4,1280.5 L1194.2,1277.6 L1197.1,1275.3 L1199.9,1274.3 L1202.8,1275.3 L1205.6,1276.0 L1208.5,1274.7 L1211.4,1274.3 L1214.2,1271.7 L1217.1,1271.1 L1219.9,1268.5 L1222.8,1267.2 L1225.6,1264.4 L1228.5,1262.7 L1231.3,1262.8 L1234.2,1260.8 L1237.1,1260.6 L1239.9,1263.8 L1242.8,1264.3 L1245.6,1267.6 L1248.5,1264.9 L1251.3,1262.4 L1254.2,1261.7 L1257.3,1261.0 L1263.0,1235.7 L1266.5,1257.0 L1268.5,1257.7 L1271.3,1255.2 L1274.2,1260.1 L1277.0,1258.6 L1279.9,1261.9 L1282.8,1258.6 L1285.6,1256.8 L1288.5,1260.0 L1291.3,1257.3 L1294.2,1261.5 L1297.0,1264.9 L1299.9,1263.6 L1302.7,1263.7 L1305.6,1264.3 L1308.5,1265.9 L1311.3,1264.9 L1314.2,1268.9 L1317.0,1270.7 L1319.9,1274.7 L1322.7,1272.8 L1325.6,1273.3 L1328.4,1276.1 L1331.3,1274.8 L1334.2,1275.9 L1337.0,1276.1 L1339.9,1278.7 L1342.7,1278.4 L1345.6,1281.6 L1348.4,1281.0 L1351.3,1285.4 L1354.2,1291.3 L1357.0,1290.0 L1359.9,1290.9 L1362.7,1290.9 L1365.6,1294.2 L1368.4,1294.8 L1371.3,1294.7 L1374.1,1299.3 L1377.0,1300.3 L1379.9,1301.9 L1382.7,1300.7 L1385.6,1304.9 L1388.4,1304.0 L1391.3,1304.6 L1394.1,1305.5 L1397.0,1307.5 L1399.8,1311.5 L1402.7,1312.6 L1405.6,1315.5 L1408.4,1314.5 L1411.3,1315.1 L1414.1,1314.3 L1417.0,1315.1 L1419.8,1315.4 L1422.7,1320.4 L1425.6,1319.8 L1428.4,1315.3 L1431.3,1313.8 L1434.1,1312.9 L1437.0,1314.4 L1439.8,1315.1 L1442.7,1319.4 L1445.5,1318.9 L1448.4,1319.2 L1451.3,1319.0 L1454.1,1321.5 L1457.0,1324.1 L1459.8,1322.4 L1462.7,1319.9 L1465.5,1321.8 L1468.4,1320.6 L1471.2,1318.3 L1474.1,1316.2 L1477.0,1315.7 L1479.8,1317.7 L1482.7,1317.1 L1485.5,1312.5 L1488.4,1313.5 L1491.2,1311.3 L1494.1,1313.8 L1497.0,1308.1 L1499.8,1312.0 L1502.7,1312.3 L1505.5,1310.1 L1508.4,1310.9 L1511.2,1310.9 L1514.1,1309.9 L1516.9,1307.6 L1519.8,1307.8 L1522.7,1311.3 L1525.5,1314.6 L1528.4,1310.8 L1531.2,1305.7 L1534.1,1305.5 L1536.9,1307.8 L1539.8,1306.3 L1542.6,1308.0 L1545.5,1312.0 L1548.4,1309.3 L1551.2,1307.0 L1554.1,1306.2 L1556.9,1305.4 L1559.8,1302.5 L1562.6,1308.1 L1565.5,1310.0 L1568.4,1311.6 L1571.2,1301.6 L1574.1,1297.2 L1576.9,1306.8 L1579.8,1315.9 L1582.6,1315.0 L1585.5,1312.8 L1588.3,1311.4 L1591.2,1310.0 L1594.1,1310.8 L1596.9,1313.7 L1599.8,1313.0 L1602.6,1316.6 L1605.5,1319.1 L1608.3,1321.5 L1611.2,1320.6 L1614.0,1321.5 L1616.9,1322.3 L1619.8,1322.2 L1622.6,1321.2 L1625.5,1322.2 L1628.3,1328.5 L1631.2,1330.1 L1634.0,1327.3 L1636.9,1326.9 L1639.8,1326.0 L1642.6,1329.0 L1645.5,1331.8 L1648.3,1331.6 L1651.2,1336.6 L1654.0,1332.7 L1656.9,1326.3 L1659.7,1327.7 L1662.6,1333.9 L1665.5,1341.3 L1668.3,1334.8 L1671.2,1337.1 L1674.0,1338.0 L1676.9,1337.0 L1679.7,1344.9 L1682.6,1347.0 L1685.4,1340.2 L1688.3,1338.2 L1691.2,1341.2 L1694.0,1339.5 L1696.9,1338.0 L1699.7,1341.5 L1702.6,1342.2 L1705.4,1342.1 L1708.3,1344.4 L1711.2,1343.3 L1714.0,1346.5 L1716.9,1345.2 L1719.7,1343.2 L1722.6,1344.0 L1725.4,1344.9 L1728.3,1344.4 L1731.1,1340.9 L1734.0,1346.8 L1736.9,1345.8 L1739.7,1350.2 L1742.6,1346.3 L1745.4,1345.4 L1748.3,1343.3 L1751.1,1346.6 L1754.0,1343.6 L1756.8,1343.2 L1759.7,1345.1 L1762.6,1343.2 L1765.4,1343.7 L1768.3,1341.9 L1771.1,1341.4 L1774.0,1345.2 L1776.8,1341.5 L1779.7,1344.9 L1782.6,1345.1 L1785.4,1347.5 L1788.3,1343.3 L1791.1,1344.6 L1794.0,1346.4 L1796.8,1348.0 L1799.7,1346.8 L1802.5,1346.0 L1805.4,1345.4 L1808.3,1349.2 L1811.1,1352.0 L1814.0,1349.9 L1816.8,1349.9 L1819.7,1349.8 L1822.5,1344.6 L1825.4,1344.2 L1828.2,1343.8 L1831.1,1345.8 L1834.0,1346.2 L1836.8,1344.5 L1839.7,1351.0 L1842.5,1352.4 L1845.4,1346.4 L1848.2,1346.4 L1851.1,1345.1 L1854.0,1347.1 L1856.8,1343.6 L1859.7,1352.9 L1862.5,1348.2 L1865.4,1351.2 L1868.2,1346.7 L1871.1,1344.5 L1873.9,1346.2 L1876.8,1351.2 L1879.7,1348.4 L1882.5,1349.4 L1885.4,1348.7 L1888.2,1345.1 L1891.1,1351.7 L1893.9,1349.4 L1896.8,1347.5 L1899.6,1350.1 L1902.5,1345.0 L1905.4,1347.3 L1908.2,1351.8 L1911.1,1350.3 L1913.9,1342.9 L1916.8,1343.2 L1919.6,1346.3 L1922.5,1351.5 L1925.4,1348.0 L1928.2,1348.8 L1931.1,1350.8 L1933.9,1347.2 L1936.8,1349.8 L1939.6,1351.2 L1942.5,1350.4 L1945.3,1350.2 L1948.2,1347.7 L1951.1,1350.3 L1953.9,1347.9 L1956.8,1351.9 L1959.6,1354.1"/>
<path stroke="#37AD6B" d="M306.0,1246.5 L308.9,1246.3 L311.7,1247.0 L314.6,1248.6 L317.4,1250.1 L320.3,1250.9 L323.1,1251.6 L326.0,1252.4 L328.8,1253.7 L331.7,1254.6 L334.6,1254.9 L337.4,1255.0 L340.3,1255.5 L343.1,1256.6 L346.0,1256.5 L348.8,1256.2 L351.7,1256.8 L354.6,1256.4 L357.4,1256.4 L360.3,1256.2 L363.1,1255.9 L366.0,1256.0 L368.8,1255.4 L371.7,1254.7 L374.5,1254.4 L377.4,1253.8 L380.3,1252.3 L383.1,1251.9 L386.0,1250.7 L388.8,1249.9 L391.7,1248.5 L394.5,1247.7 L397.4,1246.4 L400.2,1244.9 L403.1,1243.2 L406.0,1241.9 L408.8,1240.2 L411.7,1238.8 L414.5,1237.9 L417.4,1236.1 L420.2,1235.2 L423.1,1233.1 L426.0,1229.9 L428.8,1228.1 L431.7,1225.5 L434.5,1223.9 L437.4,1221.9 L440.2,1219.3 L443.1,1217.6 L445.9,1215.2 L448.8,1213.3 L451.7,1210.5 L454.5,1209.0 L457.4,1206.5 L460.2,1204.8 L463.1,1202.6 L465.9,1201.3 L468.8,1199.0 L471.6,1197.5 L474.5,1195.1 L477.4,1193.2 L480.2,1191.2 L483.1,1188.5 L485.9,1186.3 L488.8,1184.4 L491.6,1181.7 L494.5,1179.9 L497.4,1177.8 L500.2,1176.1 L503.1,1173.8 L505.9,1171.9 L508.8,1170.1 L511.6,1167.8 L514.5,1164.9 L517.3,1162.7 L520.2,1159.7 L523.1,1157.9 L525.9,1156.4 L528.8,1155.4 L531.6,1153.0 L534.5,1149.8 L537.3,1146.6 L540.2,1145.2 L543.0,1143.7 L545.9,1142.5 L548.8,1141.1 L551.6,1138.0 L554.5,1135.8 L557.3,1133.3 L560.2,1130.5 L563.0,1128.1 L565.9,1126.1 L568.8,1123.4 L571.6,1121.0 L574.5,1118.4 L577.3,1115.5 L580.2,1111.0 L583.0,1107.8 L585.9,1106.7 L588.7,1106.4 L591.6,1105.9 L594.5,1104.2 L597.3,1101.3 L600.2,1098.1 L603.0,1096.8 L605.9,1096.6 L608.7,1095.6 L611.6,1094.3 L614.4,1094.6 L617.3,1093.5 L620.2,1092.3 L623.0,1092.1 L625.9,1091.0 L628.7,1089.9 L631.6,1088.9 L634.4,1087.3 L637.3,1086.2 L640.2,1085.5 L643.0,1084.6 L645.9,1084.6 L648.7,1084.8 L651.6,1083.2 L654.4,1081.9 L657.3,1079.1 L660.1,1076.5 L663.0,1073.3 L665.9,1069.6 L668.7,1065.3 L671.6,1059.9 L674.4,1053.7 L677.3,1045.9 L680.1,1037.8 L683.0,1031.9 L685.8,1025.1 L688.7,1015.5 L691.6,1006.2 L694.4,996.7 L697.3,986.2 L700.1,974.6 L703.0,962.2 L705.8,949.4 L708.7,937.9 L711.6,926.5 L714.4,914.4 L717.3,900.6 L720.1,884.0 L723.0,868.3 L725.8,848.1 L728.7,821.0 L731.5,789.4 L734.4,759.5 L737.3,726.0 L740.1,682.7 L743.0,638.1 L745.8,593.0 L748.7,538.8 L751.5,483.5 L754.4,440.1 L757.2,384.1 L760.1,337.2 L763.0,281.3 L765.8,230.2 L768.7,138.2 L771.7,111.0 L774.3,105.8 L775.5,110.9 L776.3,118.1 L776.9,126.1 L777.9,132.8 L780.3,130.2 L783.5,125.3 L786.3,122.7 L787.1,127.8 L787.6,138.2 L788.7,157.4 L791.5,193.2 L794.4,224.1 L797.2,253.3 L800.1,306.4 L802.9,368.7 L805.8,443.3 L808.7,507.6 L811.5,563.5 L814.4,628.9 L817.2,696.9 L820.1,759.6 L822.9,816.7 L825.8,864.8 L828.6,917.2 L831.5,975.3 L834.4,1017.6 L837.2,1056.3 L840.1,1101.0 L842.9,1133.2 L845.8,1156.7 L848.6,1183.4 L851.5,1204.3 L854.4,1222.3 L857.2,1238.2 L860.1,1251.8 L862.9,1263.1 L865.8,1272.7 L868.6,1280.8 L871.5,1287.2 L874.3,1292.9 L877.2,1297.9 L880.1,1302.9 L882.9,1307.4 L885.8,1310.1 L888.6,1313.9 L891.5,1318.4 L894.3,1321.0 L897.2,1322.5 L900.0,1323.5 L902.9,1324.9 L905.8,1324.7 L908.6,1326.3 L911.5,1330.7 L914.3,1332.5 L917.2,1333.1 L920.0,1335.4 L922.9,1333.8 L925.8,1335.2 L928.6,1335.5 L931.5,1334.5 L934.3,1335.8 L937.2,1333.3 L940.0,1335.2 L942.9,1335.8 L945.7,1333.2 L948.6,1333.9 L951.5,1335.5 L954.3,1334.3 L957.2,1333.4 L960.0,1333.8 L962.9,1333.6 L965.7,1334.5 L968.6,1334.2 L971.4,1333.5 L974.3,1333.1 L977.2,1333.5 L980.0,1334.6 L982.9,1333.7 L985.7,1333.9 L988.6,1333.2 L991.4,1332.2 L994.3,1332.6 L997.2,1333.6 L1000.0,1333.4 L1002.9,1330.8 L1005.7,1329.1 L1008.6,1333.9 L1011.4,1333.1 L1014.3,1333.4 L1017.1,1333.8 L1020.0,1335.7 L1022.9,1336.0 L1025.7,1337.9 L1028.6,1337.9 L1031.4,1339.1 L1034.3,1337.8 L1037.1,1335.0 L1040.0,1335.9 L1042.8,1337.5 L1045.7,1335.8 L1048.6,1338.4 L1051.4,1340.1 L1054.3,1334.6 L1057.1,1331.1 L1060.0,1337.7 L1062.8,1333.7 L1065.7,1334.5 L1068.6,1328.1 L1071.4,1335.2 L1074.3,1332.1 L1077.1,1329.9 L1080.0,1329.8 L1082.8,1331.7 L1085.7,1331.5 L1088.5,1331.3 L1091.4,1328.9 L1094.3,1334.8 L1097.1,1331.1 L1100.0,1331.3 L1102.8,1331.4 L1105.7,1329.0 L1108.5,1332.7 L1111.4,1331.5 L1114.2,1330.6 L1117.1,1329.8 L1120.0,1327.9 L1122.8,1330.5 L1125.7,1329.4 L1128.5,1329.9 L1131.4,1330.0 L1134.2,1331.0 L1137.1,1331.3 L1140.0,1329.4 L1142.8,1328.0 L1145.7,1330.7 L1148.5,1327.8 L1151.4,1330.6 L1154.2,1330.0 L1157.1,1330.1 L1159.9,1324.6 L1162.8,1325.8 L1165.7,1326.7 L1168.5,1325.7 L1171.4,1327.1 L1174.2,1327.8 L1177.1,1324.0 L1179.9,1321.8 L1182.8,1321.0 L1185.6,1319.8 L1188.5,1319.8 L1191.4,1318.9 L1194.2,1317.2 L1197.1,1318.6 L1199.9,1314.5 L1202.8,1314.9 L1205.6,1318.4 L1208.5,1316.7 L1211.4,1315.4 L1214.2,1314.5 L1217.1,1315.2 L1219.9,1312.8 L1222.8,1311.4 L1225.6,1308.8 L1228.5,1309.3 L1231.3,1308.0 L1234.2,1307.8 L1237.1,1307.5 L1239.9,1308.0 L1242.8,1306.9 L1245.6,1305.8 L1248.5,1304.6 L1251.6,1304.0 L1254.5,1243.9 L1260.5,1350.3 L1263.4,1303.3 L1265.6,1303.1 L1268.5,1302.9 L1271.3,1302.9 L1274.2,1300.6 L1277.0,1300.6 L1279.9,1299.8 L1282.8,1298.6 L1285.6,1299.1 L1288.5,1298.3 L1291.3,1297.7 L1294.2,1298.4 L1297.0,1297.4 L1299.9,1296.5 L1302.7,1296.5 L1305.6,1297.5 L1308.5,1297.1 L1311.3,1294.8 L1314.2,1293.2 L1317.0,1291.5 L1319.9,1290.7 L1322.7,1289.4 L1325.6,1288.0 L1328.4,1285.9 L1331.3,1284.4 L1334.2,1282.4 L1337.0,1279.2 L1339.9,1276.0 L1342.7,1272.0 L1345.6,1268.7 L1348.4,1266.2 L1351.3,1262.6 L1354.2,1259.3 L1357.0,1255.2 L1359.9,1250.7 L1362.7,1245.8 L1365.6,1239.6 L1368.4,1234.5 L1371.3,1228.0 L1374.1,1222.8 L1377.0,1216.9 L1379.9,1211.2 L1382.7,1205.8 L1385.6,1199.5 L1388.4,1193.8 L1391.3,1187.9 L1394.1,1182.2 L1397.0,1177.0 L1399.8,1170.6 L1402.7,1166.5 L1405.6,1162.1 L1408.4,1158.1 L1411.3,1154.7 L1414.1,1150.7 L1417.0,1148.4 L1419.8,1146.2 L1422.7,1142.9 L1425.6,1140.8 L1428.4,1138.5 L1431.3,1137.5 L1434.1,1135.8 L1437.0,1136.0 L1439.8,1134.6 L1442.7,1134.1 L1445.5,1135.5 L1448.4,1135.4 L1451.3,1135.5 L1454.1,1136.2 L1457.0,1137.3 L1459.8,1139.1 L1462.7,1141.5 L1465.5,1144.1 L1468.4,1147.2 L1471.2,1150.2 L1474.1,1153.5 L1477.0,1157.7 L1479.8,1162.6 L1482.7,1167.5 L1485.5,1172.0 L1488.4,1177.3 L1491.2,1183.1 L1494.1,1188.0 L1497.0,1193.1 L1499.8,1197.5 L1502.7,1203.5 L1505.5,1209.2 L1508.4,1215.3 L1511.2,1220.1 L1514.1,1226.5 L1516.9,1231.3 L1519.8,1236.3 L1522.7,1240.4 L1525.5,1245.4 L1528.4,1250.4 L1531.2,1253.8 L1534.1,1259.2 L1536.9,1264.0 L1539.8,1267.9 L1542.6,1272.7 L1545.5,1276.4 L1548.4,1280.9 L1551.2,1284.2 L1554.1,1287.4 L1556.9,1291.2 L1559.8,1293.7 L1562.6,1297.1 L1565.5,1298.5 L1568.4,1301.6 L1571.2,1305.3 L1574.1,1308.4 L1576.9,1310.8 L1579.8,1314.0 L1582.6,1315.1 L1585.5,1317.9 L1588.3,1319.0 L1591.2,1321.7 L1594.1,1323.0 L1596.9,1324.6 L1599.8,1326.7 L1602.6,1329.4 L1605.5,1329.5 L1608.3,1331.4 L1611.2,1334.1 L1614.0,1335.1 L1616.9,1338.2 L1619.8,1338.9 L1622.6,1340.1 L1625.5,1341.5 L1628.3,1343.4 L1631.2,1343.7 L1634.0,1344.5 L1636.9,1345.2 L1639.8,1344.9 L1642.6,1346.2 L1645.5,1348.6 L1648.3,1349.0 L1651.2,1349.6 L1654.0,1350.3 L1656.9,1350.2 L1659.7,1351.2 L1662.6,1350.9 L1665.5,1352.0 L1668.3,1351.6 L1671.2,1352.2 L1674.0,1352.8 L1676.9,1352.6 L1679.7,1353.5 L1682.6,1353.6 L1685.4,1353.9 L1688.3,1354.8 L1691.2,1353.4 L1694.0,1353.6 L1696.9,1355.2 L1699.7,1355.7 L1702.6,1356.5 L1705.4,1355.9 L1708.3,1356.2 L1711.2,1355.3 L1714.0,1356.5 L1716.9,1356.5 L1719.7,1355.5 L1722.6,1355.6 L1725.4,1356.1 L1728.3,1356.4 L1731.1,1354.9 L1734.0,1356.2 L1736.9,1356.3 L1739.7,1356.1 L1742.6,1356.4 L1745.4,1356.6 L1748.3,1355.9 L1751.1,1356.9 L1754.0,1356.7 L1756.8,1356.5 L1759.7,1357.3 L1762.6,1358.1 L1765.4,1356.3 L1768.3,1356.2 L1771.1,1356.2 L1774.0,1358.4 L1776.8,1357.0 L1779.7,1357.2 L1782.6,1356.7 L1785.4,1356.6 L1788.3,1356.0 L1791.1,1357.3 L1794.0,1357.3 L1796.8,1356.0 L1799.7,1356.6 L1802.5,1356.8 L1805.4,1357.3 L1808.3,1357.6 L1811.1,1358.4 L1814.0,1358.7 L1816.8,1358.7 L1819.7,1359.0 L1822.5,1357.5 L1825.4,1357.9 L1828.2,1358.9 L1831.1,1358.4 L1834.0,1358.2 L1836.8,1357.0 L1839.7,1357.1 L1842.5,1358.6 L1845.4,1358.5 L1848.2,1358.2 L1851.1,1358.2 L1854.0,1357.6 L1856.8,1358.9 L1859.7,1359.4 L1862.5,1359.8 L1865.4,1358.8 L1868.2,1358.7 L1871.1,1358.1 L1873.9,1359.5 L1876.8,1359.8 L1879.7,1358.4 L1882.5,1359.0 L1885.4,1359.0 L1888.2,1358.8 L1891.1,1358.1 L1893.9,1359.4 L1896.8,1360.2 L1899.6,1359.1 L1902.5,1359.6 L1905.4,1358.9 L1908.2,1361.1 L1911.1,1360.7 L1913.9,1360.6 L1916.8,1360.5 L1919.6,1360.3 L1922.5,1360.7 L1925.4,1360.7 L1928.2,1360.8 L1931.1,1361.0 L1933.9,1361.2 L1936.8,1362.1 L1939.6,1360.4 L1942.5,1361.5 L1945.3,1361.0 L1948.2,1360.8 L1951.1,1360.2 L1953.9,1361.9 L1956.8,1361.0 L1959.6,1361.1"/>
</g>
<g font-family="'Liberation Sans', sans-serif" font-size="87.5" fill="#000" style="font-kerning:none" text-rendering="geometricPrecision">
<text transform="translate(267,1396.0) scale(1,1.04)" text-anchor="end">0.0</text>
<text transform="translate(267,765.0) scale(1,1.04)" text-anchor="end">0.5</text>
<text transform="translate(267,135.0) scale(1,1.04)" text-anchor="end">1.0</text>
<text transform="translate(525,1481) scale(1,1.04)" text-anchor="middle">400</text>
<text transform="translate(1097,1481) scale(1,1.04)" text-anchor="middle">600</text>
<text transform="translate(1668,1481) scale(1,1.04)" text-anchor="middle">800</text>
<text x="1102.3" y="1575.7" text-anchor="middle">wavelength / nm</text>
<text transform="translate(98,662.9) rotate(-90)" text-anchor="middle">Normalized Absorption</text>
</g>
</svg>
</body></html>
